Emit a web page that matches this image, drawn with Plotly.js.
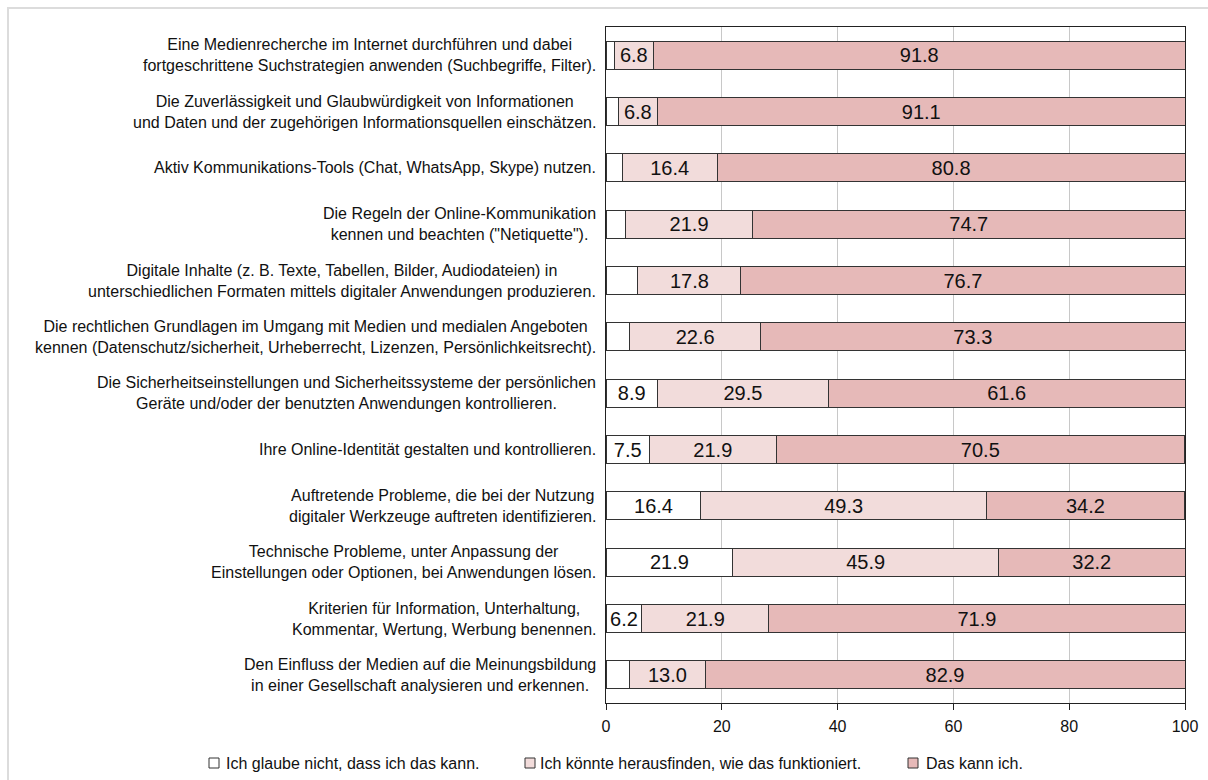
<!DOCTYPE html>
<html>
<head>
<meta charset="utf-8">
<script src="https://cdn.plot.ly/plotly-3.0.1.min.js"></script>
<style>
  html, body { margin: 0; padding: 0; background: #fff; }
  #chart { width: 1208px; height: 780px; }
</style>
</head>
<body>
<div id="chart"></div>
<script>
const categories = [
  "Eine Medienrecherche im Internet durchführen und dabei<br>fortgeschrittene Suchstrategien anwenden (Suchbegriffe, Filter).",
  "Die Zuverlässigkeit und Glaubwürdigkeit von Informationen<br>und Daten und der zugehörigen Informationsquellen einschätzen.",
  "Aktiv Kommunikations-Tools (Chat, WhatsApp, Skype) nutzen.",
  "Die Regeln der Online-Kommunikation<br>kennen und beachten (\"Netiquette\").",
  "Digitale Inhalte (z. B. Texte, Tabellen, Bilder, Audiodateien) in<br>unterschiedlichen Formaten mittels digitaler Anwendungen produzieren.",
  "Die rechtlichen Grundlagen im Umgang mit Medien und medialen Angeboten<br>kennen (Datenschutz/sicherheit, Urheberrecht, Lizenzen, Persönlichkeitsrecht).",
  "Die Sicherheitseinstellungen und Sicherheitssysteme der persönlichen<br>Geräte und/oder der benutzten Anwendungen kontrollieren.",
  "Ihre Online-Identität gestalten und kontrollieren.",
  "Auftretende Probleme, die bei der Nutzung<br>digitaler Werkzeuge auftreten identifizieren.",
  "Technische Probleme, unter Anpassung der<br>Einstellungen oder Optionen, bei Anwendungen lösen.",
  "Kriterien für Information, Unterhaltung,<br>Kommentar, Wertung, Werbung benennen.",
  "Den Einfluss der Medien auf die Meinungsbildung<br>in einer Gesellschaft analysieren und erkennen."
];

const seriesNames = [
  "Ich glaube nicht, dass ich das kann.",
  "Ich könnte herausfinden, wie das funktioniert.",
  "Das kann ich."
];

const kannNicht    = [1.4, 2.1, 2.8, 3.4, 5.5, 4.1, 8.9, 7.5, 16.4, 21.9, 6.2, 4.1];
const herausfinden = [6.8, 6.8, 16.4, 21.9, 17.8, 22.6, 29.5, 21.9, 49.3, 45.9, 21.9, 13.0];
const kannIch      = [91.8, 91.1, 80.8, 74.7, 76.7, 73.3, 61.6, 70.5, 34.2, 32.2, 71.9, 82.9];

const xTicks = [0, 20, 40, 60, 80, 100];

const colors = ["#FFFFFF", "#F2DCDB", "#E6B9B8"];
const seriesValues = [kannNicht, herausfinden, kannIch];

const FONT = "Liberation Sans, Arial, sans-serif";

// plot area geometry (pixels)
const W = 1208, H = 780;
const PL = 606, PR = 1185, PT = 27, PB = 703;
const px2x = (px) => (px - PL) / (PR - PL);
const px2y = (py) => (PB - py) / (PB - PT);

const labelFor = (v) => (v >= 6 ? v.toFixed(1) : "");

const traces = seriesValues.map((vals, i) => ({
  type: "bar",
  orientation: "h",
  name: seriesNames[i],
  y: categories,
  x: vals,
  text: vals.map(labelFor),
  textposition: "inside",
  insidetextanchor: "middle",
  textangle: 0,
  constraintext: "none",
  insidetextfont: { family: FONT, size: 20, color: "#111" },
  marker: { color: colors[i], line: { color: "#333333", width: 1 } },
  hoverinfo: "x+name",
  showlegend: false
}));

// category labels (centred multi-line, right edge next to the axis)
const catAnnotations = categories.map((c) => ({
  xref: "paper",
  yref: "y",
  x: px2x(598),
  y: c,
  xanchor: "right",
  yanchor: "middle",
  align: "center",
  text: c,
  showarrow: false,
  font: { family: FONT, size: 16, color: "#111" }
}));

// custom legend
const legendSymbolX = [209, 525, 908];
const legendTextX = [224, 538, 924];
const legendShapes = seriesNames.map((n, i) => ({
  type: "rect",
  xref: "paper",
  yref: "paper",
  x0: px2x(legendSymbolX[i]),
  x1: px2x(legendSymbolX[i] + 10),
  y0: px2y(768),
  y1: px2y(758),
  line: { color: "#333", width: 1 },
  fillcolor: colors[i]
}));
const legendAnnotations = seriesNames.map((n, i) => ({
  xref: "paper",
  yref: "paper",
  x: px2x(legendTextX[i]),
  y: px2y(763),
  xanchor: "left",
  yanchor: "middle",
  text: n,
  showarrow: false,
  font: { family: FONT, size: 16, color: "#111" }
}));

const layout = {
  width: W,
  height: H,
  barmode: "stack",
  bargap: 0.5,
  paper_bgcolor: "#ffffff",
  plot_bgcolor: "#ffffff",
  font: { family: FONT, color: "#111" },
  margin: { l: PL, r: W - PR, t: PT, b: H - PB, pad: 0 },
  showlegend: false,
  xaxis: {
    range: [0, 100],
    tickvals: xTicks,
    ticktext: xTicks.map(String),
    showgrid: true,
    gridcolor: "#c8c8c8",
    gridwidth: 1,
    zeroline: false,
    showline: true,
    linecolor: "#222",
    linewidth: 1,
    mirror: true,
    ticks: "outside",
    ticklen: 6,
    tickcolor: "#222",
    ticklabelstandoff: 3,
    tickfont: { family: FONT, size: 16, color: "#111" }
  },
  yaxis: {
    type: "category",
    autorange: "reversed",
    showline: true,
    linecolor: "#222",
    linewidth: 1,
    mirror: true,
    showgrid: false,
    ticks: "",
    showticklabels: false
  },
  annotations: catAnnotations.concat(legendAnnotations),
  shapes: [
    {
      type: "rect",
      xref: "paper",
      yref: "paper",
      x0: px2x(8),
      x1: px2x(1212),
      y0: px2y(790),
      y1: px2y(8),
      line: { color: "#dcdcdc", width: 2 },
      fillcolor: "rgba(0,0,0,0)",
      layer: "below"
    }
  ].concat(legendShapes)
};

Plotly.newPlot("chart", traces, layout, { displayModeBar: false, responsive: false });
</script>
</body>
</html>
